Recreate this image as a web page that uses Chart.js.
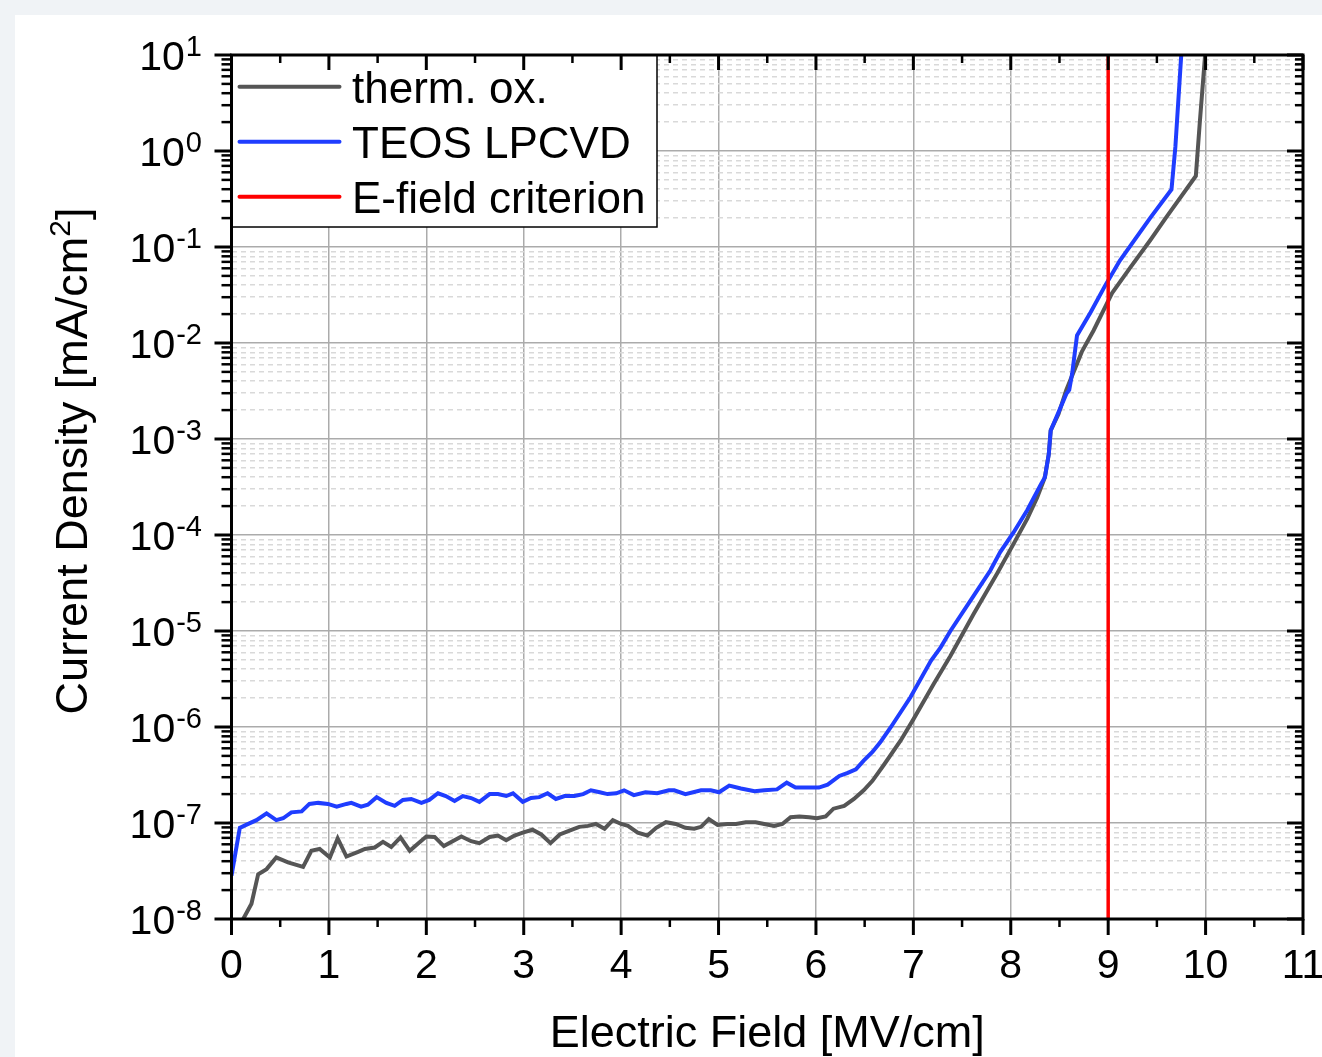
<!DOCTYPE html>
<html>
<head>
<meta charset="utf-8">
<script src="https://cdn.jsdelivr.net/npm/chart.js@4.4.1/dist/chart.umd.min.js"></script>
<style>
  html, body { margin: 0; padding: 0; background: #f0f3f6; }
  #card { position: absolute; left: 15px; top: 15px; width: 1307px; height: 1042px; background: #fff; }
  canvas { display: block; }
</style>
</head>
<body>
<div id="card"><canvas id="jv" width="1307" height="1042"></canvas></div>
<script>
// ---- data ----
const FIELD_THERM = [
  0.12, 0.205, 0.274, 0.36, 0.46, 0.58, 0.735, 0.82, 0.905, 1.01,
  1.09, 1.18, 1.30, 1.37, 1.47, 1.555, 1.64, 1.735, 1.83, 1.91,
  2.0, 2.085, 2.18, 2.27, 2.36, 2.46, 2.545, 2.65, 2.735, 2.82,
  2.905, 2.99, 3.09, 3.18, 3.275, 3.37, 3.47, 3.57, 3.66, 3.74,
  3.83, 3.915, 4.0, 4.07, 4.17, 4.27, 4.36, 4.46, 4.56, 4.66,
  4.75, 4.82, 4.90, 4.99, 5.09, 5.18, 5.28, 5.38, 5.47, 5.57,
  5.655, 5.74, 5.83, 5.93, 6.01, 6.10, 6.18, 6.29, 6.39, 6.49,
  6.58, 6.70, 6.87, 7.00, 7.21, 7.38, 7.62, 7.86, 8.03, 8.17,
  8.27, 8.35, 8.39, 8.41, 8.49, 8.57, 8.73, 8.85, 9.04, 9.23,
  9.43, 9.59, 9.90, 9.94, 9.995
];
const J_THERM = [
  1.0e-8, 1.44e-8, 2.93e-8, 3.31e-8, 4.37e-8, 3.89e-8, 3.49e-8, 5.13e-8, 5.37e-8, 4.37e-8,
  6.92e-8, 4.47e-8, 5.0e-8, 5.37e-8, 5.56e-8, 6.37e-8, 5.62e-8, 7.08e-8, 5.13e-8, 6.03e-8,
  7.24e-8, 7.16e-8, 5.75e-8, 6.46e-8, 7.24e-8, 6.46e-8, 6.17e-8, 7.16e-8, 7.41e-8, 6.61e-8,
  7.41e-8, 7.94e-8, 8.51e-8, 7.59e-8, 6.17e-8, 7.59e-8, 8.32e-8, 9.12e-8, 9.33e-8, 9.77e-8,
  8.71e-8, 1.07e-7, 9.77e-8, 9.33e-8, 7.94e-8, 7.41e-8, 8.91e-8, 1.02e-7, 9.77e-8, 8.91e-8,
  8.71e-8, 9.12e-8, 1.10e-7, 9.55e-8, 9.77e-8, 9.77e-8, 1.02e-7, 1.02e-7, 9.77e-8, 9.33e-8,
  9.77e-8, 1.15e-7, 1.17e-7, 1.15e-7, 1.12e-7, 1.17e-7, 1.41e-7, 1.51e-7, 1.78e-7, 2.19e-7,
  2.75e-7, 4.07e-7, 7.24e-7, 1.20e-6, 2.82e-6, 5.50e-6, 1.51e-5, 3.98e-5, 8.13e-5, 1.48e-4,
  2.45e-4, 3.98e-4, 6.92e-4, 1.23e-3, 1.82e-3, 3.24e-3, 8.13e-3, 1.35e-2, 3.31e-2, 6.17e-2,
  0.117, 0.200, 0.550, 1.95, 10
];

const FIELD_TEOS = [
  0.0, 0.085, 0.15, 0.256, 0.36, 0.46, 0.53, 0.615, 0.72, 0.80,
  0.89, 0.99, 1.08, 1.18, 1.23, 1.33, 1.40, 1.49, 1.59, 1.675,
  1.76, 1.845, 1.95, 2.03, 2.12, 2.20, 2.29, 2.375, 2.46, 2.545,
  2.65, 2.735, 2.82, 2.89, 2.99, 3.075, 3.16, 3.245, 3.33, 3.42,
  3.52, 3.61, 3.69, 3.78, 3.86, 3.95, 4.03, 4.13, 4.25, 4.37,
  4.49, 4.545, 4.66, 4.82, 4.92, 5.005, 5.11, 5.23, 5.37, 5.47,
  5.60, 5.70, 5.79, 5.91, 6.03, 6.12, 6.24, 6.32, 6.41, 6.49,
  6.58, 6.66, 6.77, 6.97, 7.18, 7.28, 7.38, 7.62, 7.79, 7.89,
  8.03, 8.17, 8.31, 8.35, 8.39, 8.41, 8.47, 8.57, 8.60, 8.63,
  8.68, 8.82, 8.97, 9.12, 9.43, 9.65, 9.69, 9.75
];
const J_TEOS = [
  2.82e-8, 8.91e-8, 9.55e-8, 1.07e-7, 1.26e-7, 1.07e-7, 1.12e-7, 1.29e-7, 1.32e-7, 1.58e-7,
  1.62e-7, 1.58e-7, 1.48e-7, 1.58e-7, 1.62e-7, 1.48e-7, 1.55e-7, 1.86e-7, 1.62e-7, 1.51e-7,
  1.74e-7, 1.78e-7, 1.62e-7, 1.74e-7, 2.04e-7, 1.91e-7, 1.70e-7, 1.91e-7, 1.82e-7, 1.66e-7,
  2.0e-7, 2.0e-7, 1.91e-7, 2.04e-7, 1.66e-7, 1.82e-7, 1.86e-7, 2.04e-7, 1.78e-7, 1.91e-7,
  1.91e-7, 2.0e-7, 2.19e-7, 2.09e-7, 2.0e-7, 2.04e-7, 2.19e-7, 1.95e-7, 2.09e-7, 2.04e-7,
  2.19e-7, 2.19e-7, 2.0e-7, 2.19e-7, 2.19e-7, 2.09e-7, 2.45e-7, 2.29e-7, 2.14e-7, 2.19e-7,
  2.24e-7, 2.63e-7, 2.34e-7, 2.34e-7, 2.34e-7, 2.51e-7, 3.09e-7, 3.31e-7, 3.63e-7, 4.47e-7,
  5.50e-7, 6.92e-7, 1.0e-6, 2.04e-6, 4.90e-6, 6.76e-6, 1.0e-5, 2.34e-5, 4.27e-5, 6.61e-5,
  1.07e-4, 1.82e-4, 3.39e-4, 3.98e-4, 6.92e-4, 1.23e-3, 1.70e-3, 2.95e-3, 3.24e-3, 4.79e-3,
  1.20e-2, 2.09e-2, 3.98e-2, 7.24e-2, 0.200, 0.398, 1.11, 10
];

const CRITERION_FIELD = 9;
const X_TICKS = [0, 1, 2, 3, 4, 5, 6, 7, 8, 9, 10, 11];
const Y_DECADES = [1e-8, 1e-7, 1e-6, 1e-5, 1e-4, 1e-3, 1e-2, 1e-1, 1, 10];
const Y_EXPONENTS = ["-8", "-7", "-6", "-5", "-4", "-3", "-2", "-1", "0", "1"];
const MINOR_MULT = [2, 3, 4, 5, 6, 7, 8, 9];

const FONT = '"Liberation Sans", Arial, sans-serif';
Chart.defaults.font.family = FONT;
Chart.defaults.color = "#000";

const yMinorTicks = [];
Y_DECADES.slice(0, -1).forEach(d => MINOR_MULT.forEach(m => yMinorTicks.push(m * d)));
const xMinorTicks = X_TICKS.slice(0, -1).map(v => v + 0.5);

const pts = (xs, ys) => xs.map((x, i) => ({ x, y: ys[i] }));

// ---- frame, ticks on all four sides, y labels, y title, boxed legend ----
const originFrame = {
  id: "originFrame",
  afterDraw(chart) {
    const { ctx, chartArea: a, scales: { x, y } } = chart;
    ctx.save();

    // legend box
    const lx = a.left, ly = a.top, lw = 425.5, lh = 172;
    ctx.fillStyle = "#fff";
    ctx.fillRect(lx, ly, lw, lh);
    ctx.strokeStyle = "#000";
    ctx.lineWidth = 1.5;
    ctx.strokeRect(lx, ly, lw, lh);
    chart.data.datasets.forEach((ds, i) => {
      const cy = ly + 31.7 + i * 55;
      ctx.strokeStyle = ds.borderColor;
      ctx.lineWidth = 4;
      ctx.lineCap = "round";
      ctx.beginPath();
      ctx.moveTo(lx + 8, cy);
      ctx.lineTo(lx + 108, cy);
      ctx.stroke();
      ctx.fillStyle = "#000";
      ctx.font = "44px " + FONT;
      ctx.textAlign = "left";
      ctx.textBaseline = "alphabetic";
      ctx.fillText(ds.label, lx + 120.5, cy + 16);
    });
    ctx.lineCap = "butt";

    // ticks
    ctx.strokeStyle = "#000";
    const tick = (x1, y1, x2, y2, w) => {
      ctx.lineWidth = w;
      ctx.beginPath(); ctx.moveTo(x1, y1); ctx.lineTo(x2, y2); ctx.stroke();
    };
    X_TICKS.forEach(v => {
      const px = x.getPixelForValue(v);
      tick(px, a.bottom, px, a.bottom + 16, 3);
      tick(px, a.top, px, a.top + 15, 3);
    });
    xMinorTicks.forEach(v => {
      const px = x.getPixelForValue(v);
      tick(px, a.bottom, px, a.bottom + 8, 2.5);
      tick(px, a.top, px, a.top + 8, 2.5);
    });
    Y_DECADES.forEach(v => {
      const py = y.getPixelForValue(v);
      tick(a.left - 17, py, a.left, py, 3);
      tick(a.right - 16, py, a.right, py, 3);
    });
    yMinorTicks.forEach(v => {
      const py = y.getPixelForValue(v);
      tick(a.left - 10, py, a.left, py, 2.5);
      tick(a.right - 8, py, a.right, py, 2.5);
    });

    // frame
    ctx.lineWidth = 3;
    ctx.strokeRect(a.left, a.top, a.right - a.left, a.bottom - a.top);

    // y tick labels 10^n
    ctx.fillStyle = "#000";
    ctx.textBaseline = "alphabetic";
    Y_DECADES.forEach((v, i) => {
      const py = y.getPixelForValue(v);
      const right = 187;
      ctx.font = "29px " + FONT;
      const ew = ctx.measureText(Y_EXPONENTS[i]).width;
      ctx.textAlign = "left";
      ctx.fillText(Y_EXPONENTS[i], right - ew, py + 1);
      ctx.font = "41px " + FONT;
      ctx.textAlign = "right";
      ctx.fillText("10", right - ew - 1, py + 15);
    });

    // y title with superscript
    ctx.translate(72, 446);
    ctx.rotate(-Math.PI / 2);
    const main = "Current Density [mA/cm", sup = "2", tail = "]";
    ctx.font = "45px " + FONT;
    const wMain = ctx.measureText(main).width, wTail = ctx.measureText(tail).width;
    ctx.font = "30px " + FONT;
    const wSup = ctx.measureText(sup).width;
    let sx = -(wMain + wSup + wTail) / 2;
    ctx.textAlign = "left";
    ctx.font = "45px " + FONT;
    ctx.fillText(main, sx, 0);
    sx += wMain;
    ctx.font = "30px " + FONT;
    ctx.fillText(sup, sx, -17);
    sx += wSup;
    ctx.font = "45px " + FONT;
    ctx.fillText(tail, sx, 0);

    ctx.restore();
  }
};

new Chart(document.getElementById("jv"), {
  type: "line",
  data: {
    datasets: [
      { label: "therm. ox.", data: pts(FIELD_THERM, J_THERM), borderColor: "#555555", borderWidth: 4, pointRadius: 0, order: 2 },
      { label: "TEOS LPCVD", data: pts(FIELD_TEOS, J_TEOS), borderColor: "#1f3dff", borderWidth: 4, pointRadius: 0, order: 1 },
      { label: "E-field criterion", data: [{ x: CRITERION_FIELD, y: Y_DECADES[0] }, { x: CRITERION_FIELD, y: Y_DECADES[Y_DECADES.length - 1] }],
        borderColor: "#ff0000", borderWidth: 3.5, pointRadius: 0, order: 0 }
    ]
  },
  options: {
    responsive: false,
    animation: false,
    layout: { padding: { top: 40, right: 19, left: 0, bottom: 0 } },
    plugins: { legend: { display: false }, tooltip: { enabled: false } },
    scales: {
      x: {
        type: "linear", min: 0, max: 11,
        afterBuildTicks: s => { s.ticks = X_TICKS.map(v => ({ value: v })); },
        afterFit: s => { s.height = 138; s.paddingLeft = 0; s.paddingRight = 0; },
        grid: { color: "#ababab", lineWidth: 1.5, drawTicks: false },
        border: { display: false },
        ticks: { font: { size: 41 }, padding: 23, maxRotation: 0, autoSkip: false },
        title: { display: true, text: "Electric Field [MV/cm]", font: { size: 45, lineHeight: 1 }, padding: { top: 0, bottom: 0 } }
      },
      y: {
        type: "logarithmic", min: 1e-8, max: 10, position: "left",
        afterBuildTicks: s => { s.ticks = Y_DECADES.map(v => ({ value: v, major: true })); },
        afterFit: s => { s.width = 216.5; s.paddingTop = 0; s.paddingBottom = 0; },
        grid: { color: "#ababab", lineWidth: 1.5, drawTicks: false },
        border: { display: false },
        ticks: { display: false }
      },
      yMinor: {
        type: "logarithmic", min: 1e-8, max: 10, position: "left",
        afterBuildTicks: s => { s.ticks = yMinorTicks.map(v => ({ value: v })); },
        afterFit: s => { s.width = 0; s.paddingTop = 0; s.paddingBottom = 0; },
        grid: { color: "#d9d9d9", lineWidth: 1.5, drawTicks: false },
        border: { display: false, dash: [5, 4] },
        ticks: { display: false }
      }
    }
  },
  plugins: [originFrame]
});
</script>
</body>
</html>
